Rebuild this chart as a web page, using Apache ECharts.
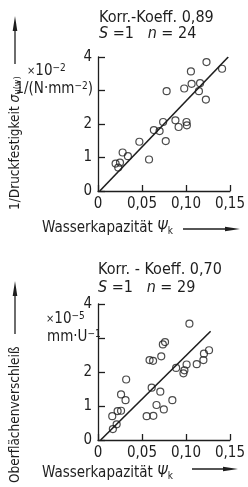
<!DOCTYPE html>
<html><head><meta charset="utf-8">
<script src="https://cdn.jsdelivr.net/npm/echarts@6/dist/echarts.min.js"></script>
<style>html,body{margin:0;padding:0;background:#fff}#c{width:248px;height:487px}</style>
</head><body><div id="c"></div>
<script>
// ---- data ----
const topX = [0.020,0.025,0.023,0.028,0.034,0.047,0.058,0.0635,0.070,0.074,0.077,0.078,0.088,0.0916,0.1006,0.101,0.098,0.1056,0.1064,0.116,0.1147,0.1226,0.1233,0.141];
const topY = [0.82,0.85,0.70,1.15,1.04,1.47,0.94,1.82,1.79,2.06,1.49,2.98,2.11,1.91,2.06,1.96,3.06,3.57,3.20,3.22,2.98,2.73,3.85,3.65];
const botX = [0.0169,0.0212,0.0162,0.0223,0.0262,0.0262,0.0313,0.032,0.0553,0.0629,0.061,0.0665,0.0708,0.0748,0.0845,0.0586,0.0626,0.0719,0.0737,0.0762,0.0888,0.0971,0.0982,0.1007,0.1039,0.1122,0.1198,0.1204,0.1262];
const botY = [0.32,0.46,0.70,0.85,0.86,1.34,1.17,1.78,0.70,0.71,1.54,1.03,1.42,0.90,1.17,2.35,2.33,2.46,2.81,2.88,2.12,1.96,2.05,2.22,3.42,2.23,2.35,2.54,2.64];
const topLineX = [0.002, 0.148];
const topLineY = [0, 4.0];
const botLineX = [0.003, 0.128];
const botLineY = [0, 3.2];
const xTickLabels = ['0','0,05','0,10','0,15'];
const yTickLabels = ['0','1','2','','4'];

const FF = '"DejaVu Sans Condensed","Liberation Sans Narrow","DejaVu Sans",sans-serif';
const INK = '#1e1e1e';
const zip = (a,b) => a.map((v,i)=>[v,b[i]]);

function xAxisFor(gi){
  return {gridIndex:gi,type:'value',min:0,max:0.15,interval:0.05,
    axisLine:{lineStyle:{color:INK,width:1.3}},
    axisTick:{inside:true,length:6,lineStyle:{color:INK,width:1.3}},
    splitLine:{show:false},
    axisLabel:{margin:6,color:INK,fontFamily:FF,fontSize:15,
      formatter:v=>xTickLabels[Math.round(v/0.05)]}};
}
function yAxisFor(gi){
  return {gridIndex:gi,type:'value',min:0,max:4,interval:1,
    axisLine:{show:true,lineStyle:{color:INK,width:1.3}},
    axisTick:{show:true,inside:true,length:7,lineStyle:{color:INK,width:1.3}},
    splitLine:{show:false},
    axisLabel:{margin:6,color:INK,fontFamily:FF,fontSize:15,
      formatter:v=>yTickLabels[Math.round(v)]}};
}
const rich = {
  n:{fontFamily:FF,fontSize:15,fill:INK},
  m:{fontFamily:FF,fontSize:13.5,fill:INK},
  t:{fontFamily:FF,fontSize:16,fill:INK},
  i:{fontFamily:FF,fontSize:16,fill:INK,fontStyle:'italic'},
  g:{fontFamily:FF,fontSize:15,fill:INK,fontStyle:'italic'},
  gm:{fontFamily:FF,fontSize:14,fill:INK,fontStyle:'italic'},
  x:{fontFamily:FF,fontSize:11,fill:INK},
  sup:{fontFamily:FF,fontSize:10,fill:INK,verticalAlign:'top'},
  sub:{fontFamily:FF,fontSize:10,fill:INK,verticalAlign:'bottom',padding:[6,0,0,0]},
  subm:{fontFamily:FF,fontSize:9,fill:INK,verticalAlign:'bottom',padding:[5,0,0,0]}
};
function txt(x,y,text,align,rot){
  const o = {type:'text',x:x,y:y,silent:true,
    style:{text:text,rich:rich,align:align||'left',verticalAlign:'middle',fill:INK,fontFamily:FF,fontSize:15}};
  if(rot){o.rotation=rot;}
  return o;
}
function hArrow(x1,x2,y){
  return [
    {type:'line',shape:{x1:x1,y1:y,x2:x2-12,y2:y},style:{stroke:INK,lineWidth:1.3}},
    {type:'polygon',shape:{points:[[x2-15,y-2.3],[x2,y],[x2-15,y+2.3]]},style:{fill:INK}}
  ];
}
function vArrow(x,y1,y2){ // y1 bottom, y2 tip
  return [
    {type:'line',shape:{x1:x,y1:y1,x2:x,y2:y2+12},style:{stroke:INK,lineWidth:1.3}},
    {type:'polygon',shape:{points:[[x-2.3,y2+15],[x,y2],[x+2.3,y2+15]]},style:{fill:INK}}
  ];
}

const chart = echarts.init(document.getElementById('c'),null,{renderer:'canvas'});
const scatterStyle = {color:'rgba(0,0,0,0)',borderColor:INK,borderWidth:1.2};
chart.setOption({
  animation:false,
  backgroundColor:'#fff',
  grid:[{left:98,top:57,width:139,height:134},{left:98,top:304,width:139,height:136}],
  xAxis:[xAxisFor(0),xAxisFor(1)],
  yAxis:[yAxisFor(0),yAxisFor(1)],
  series:[
    {type:'scatter',xAxisIndex:0,yAxisIndex:0,data:zip(topX,topY),symbol:'circle',symbolSize:7,itemStyle:scatterStyle},
    {type:'line',xAxisIndex:0,yAxisIndex:0,data:zip(topLineX,topLineY),symbol:'none',lineStyle:{color:INK,width:1.6}},
    {type:'scatter',xAxisIndex:1,yAxisIndex:1,data:zip(botX,botY),symbol:'circle',symbolSize:7,itemStyle:scatterStyle},
    {type:'line',xAxisIndex:1,yAxisIndex:1,data:zip(botLineX,botLineY),symbol:'none',lineStyle:{color:INK,width:1.6}}
  ],
  graphic:[
    txt(99,18,'{t|Korr.-Koeff. 0,89}'),
    txt(99,34,'{i|S}{t| =1   }{i|n}{t| = 24}'),
    txt(27,71,'{x|×}{n|10}{sup|−2}'),
    txt(93,89,'{n|1/(N·mm}{sup|−2}{n|)}','right'),
    txt(15,210,'{m|1/Druckfestigkeit }{gm|σ}{subm|u(w)}','left',Math.PI/2),
    ...vArrow(15,64,16),
    txt(42,228,'{n|Wasserkapazität }{g|Ψ}{sub|k}'),
    ...hArrow(183,240,229),

    txt(98,270,'{t|Korr. - Koeff. 0,70}'),
    txt(98,288,'{i|S}{t| =1   }{i|n}{t| = 29}'),
    txt(46,319,'{x|×}{n|10}{sup|−5}'),
    txt(47,337,'{n|mm·U}{sup|−1}'),
    txt(15,483,'{m|Oberflächenverschleiß}','left',Math.PI/2),
    ...vArrow(15,334,281),
    txt(42,473,'{n|Wasserkapazität }{g|Ψ}{sub|k}'),
    ...hArrow(192,238,469)
  ]
});
</script></body></html>
